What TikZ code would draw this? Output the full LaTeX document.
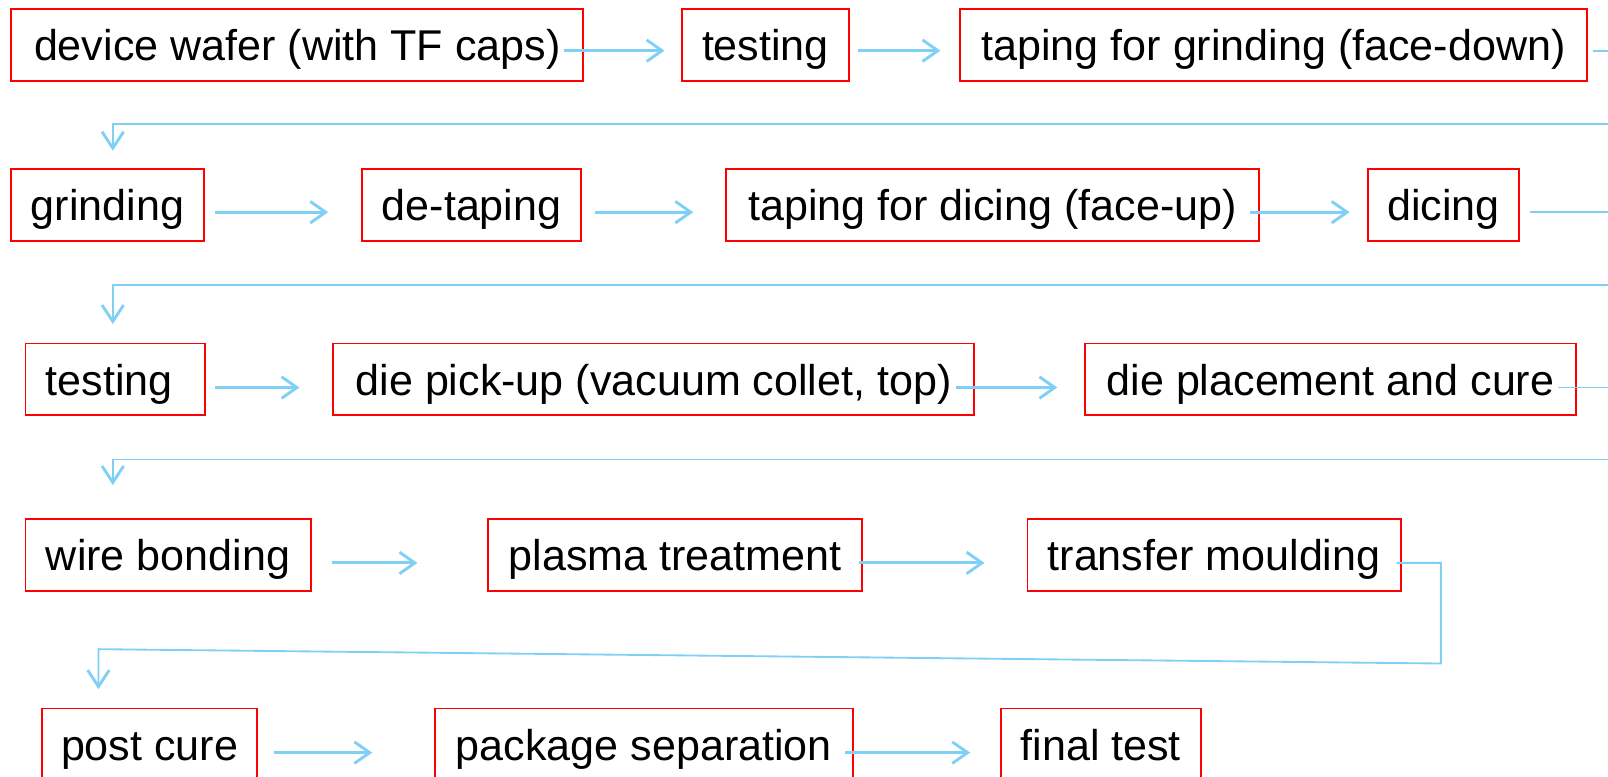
\documentclass[tikz,border=0pt]{standalone}
\usepackage{fontspec}
\setmainfont{Liberation Sans}
\usetikzlibrary{arrows.meta}
\definecolor{flowblue}{RGB}{128,208,245}
\definecolor{boxred}{RGB}{255,0,0}
\tikzset{
  stepbox/.style={draw=boxred, line width=0.9pt, rectangle, anchor=north west,
    minimum height=35pt, inner xsep=0pt, inner ysep=0pt,
    text height=18pt, text depth=2.7pt,
    font=\fontsize{21pt}{25pt}\selectfont},
  arr/.style={draw=flowblue, line width=1.4pt,
    -{Straight Barb[length=7.5pt,width=10.5pt]}},
  conn/.style={draw=flowblue, line width=0.9pt,
    -{Straight Barb[length=8pt,width=10.5pt,line width=1.4pt]}}
}
\begin{document}
\begin{tikzpicture}[x=0.5pt,y=-0.5pt]
\useasboundingbox (0,0) rectangle (1568,757);
\clip (0,0) rectangle (1568,757);
% row 1
\node[stepbox, minimum width=279pt] (B1) at (10,8) {device wafer (with TF caps)};
\node[stepbox, minimum width=81.5pt] (B2) at (664,8) {testing};
\node[stepbox, minimum width=306pt] (B3) at (935,8) {taping for grinding (face-down)};
% row 2
\node[stepbox, minimum width=94pt] (G) at (10,164) {grinding};
\node[stepbox, minimum width=107pt] (DT) at (352,164) {de-taping};
\node[stepbox, minimum width=260pt] (TD) at (707,164) {taping for dicing (face-up)};
\node[stepbox, minimum width=73.5pt] (DI) at (1333,164) {dicing};
% row 3
\node[stepbox, minimum width=87.5pt] (T2) at (24,334) {testing\hspace*{6pt}};
\node[stepbox, minimum width=312.5pt] (DP) at (324,334) {die pick-up (vacuum collet, top)};
\node[stepbox, minimum width=239.5pt] (DPC) at (1057,334) {die placement and cure};
% row 4
\node[stepbox, minimum width=139pt] (WB) at (24,505) {wire bonding};
\node[stepbox, minimum width=182.5pt] (PT) at (475,505) {plasma treatment};
\node[stepbox, minimum width=182pt] (TM) at (1001,505) {transfer moulding};
% row 5
\node[stepbox, minimum width=105pt] (PC) at (40,690) {post cure};
\node[stepbox, minimum width=204pt] (PS) at (423,690) {package separation};
\node[stepbox, minimum width=97.5pt] (FT) at (975,690) {final test};
% row arrows
\draw[arr] ([xshift=-10pt,yshift=-2.75pt]B1.east) -- ([xshift=-8pt,yshift=-2.75pt]B2.west);
\draw[arr] ([xshift=4pt,yshift=-2.75pt]B2.east) -- ([xshift=-9pt,yshift=-2.75pt]B3.west);
\draw[arr] ([xshift=5pt,yshift=-3.5pt]G.east) -- ([xshift=-16pt,yshift=-3.5pt]DT.west);
\draw[arr] ([xshift=6pt,yshift=-3.5pt]DT.east) -- ([xshift=-15.5pt,yshift=-3.5pt]TD.west);
\draw[arr] ([xshift=-5pt,yshift=-3.5pt]TD.east) -- ([xshift=-8.5pt,yshift=-3.5pt]DI.west);
\draw[arr] ([xshift=4.5pt,yshift=-4pt]T2.east) -- ([xshift=-16pt,yshift=-4pt]DP.west);
\draw[arr] ([xshift=-9.5pt,yshift=-4pt]DP.east) -- ([xshift=-13pt,yshift=-4pt]DPC.west);
\draw[arr] ([xshift=10pt,yshift=-4pt]WB.east) -- ([xshift=-34pt,yshift=-4pt]PT.west);
\draw[arr] ([xshift=-2pt,yshift=-4pt]PT.east) -- ([xshift=-20.5pt,yshift=-4pt]TM.west);
\draw[arr] ([xshift=7.5pt,yshift=-4pt]PC.east) -- ([xshift=-30pt,yshift=-4pt]PS.west);
\draw[arr] ([xshift=-4.5pt,yshift=-4pt]PS.east) -- ([xshift=-14.5pt,yshift=-4pt]FT.west);
% row-to-row connectors
\draw[conn] ([xshift=2.5pt,yshift=-2.75pt]B3.east) -| (1600,121) -| ([xshift=50pt,yshift=8.5pt]G.north west);
\draw[conn] ([xshift=5pt,yshift=-3.5pt]DI.east) -| (1600,278) -| ([xshift=43pt,yshift=9pt]T2.north west);
\draw[conn] ([xshift=-9.5pt,yshift=-4pt]DPC.east) -| (1600,448) -| ([xshift=43pt,yshift=16pt]WB.north west);
\draw[conn] ([xshift=-2.5pt,yshift=-4pt]TM.east) -| (1405,647) -- (96,633) -- ([xshift=28pt,yshift=9pt]PC.north west);
\end{tikzpicture}
\end{document}
